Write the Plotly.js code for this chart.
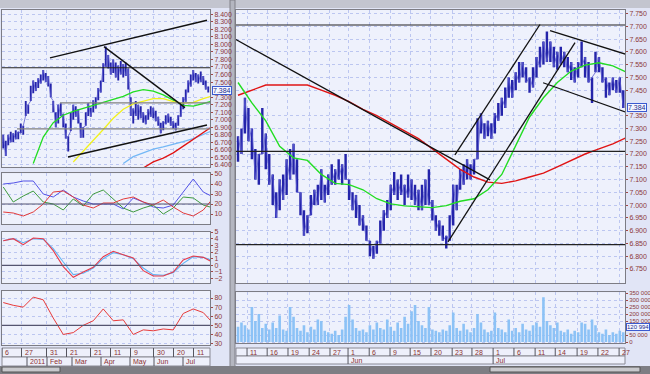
<!DOCTYPE html>
<html><head><meta charset="utf-8">
<script src="https://cdn.plot.ly/plotly-3.0.1.min.js"></script>
<style>html,body{margin:0;padding:0;background:#dde2f4;overflow:hidden}#chart{width:650px;height:374px}</style>
</head><body><div id="chart"></div>
<script>
// ===== LEFT CHART (daily, Dec 2010 - Jul 2011), one bar per 2 sessions =====
const leftHigh = [6.80,6.72,6.80,6.84,6.82,6.86,6.84,6.95,6.92,7.25,
 7.20,7.45,7.52,7.50,7.55,7.60,7.66,7.62,7.58,7.48,
 7.25,7.10,7.20,7.22,7.08,6.95,6.78,7.10,7.20,7.18,
 7.14,6.96,6.90,7.10,7.22,7.16,7.26,7.30,7.42,7.52,
 7.75,7.97,7.86,7.76,7.80,7.76,7.72,7.78,7.74,7.76,
 7.68,7.30,7.15,7.25,7.20,7.18,7.10,7.06,7.14,7.18,
 7.16,7.12,7.04,6.96,6.98,7.06,7.08,7.04,6.98,6.96,
 7.06,7.20,7.30,7.40,7.52,7.60,7.66,7.62,7.60,7.64,
 7.58,7.52,7.44];
const leftLow = [6.62,6.52,6.66,6.70,6.70,6.74,6.74,6.82,6.80,7.05,
 7.08,7.25,7.35,7.38,7.42,7.48,7.52,7.50,7.44,7.30,
 7.10,6.90,6.95,7.05,6.90,6.75,6.58,6.85,7.00,7.04,
 6.95,6.76,6.76,6.92,7.05,7.04,7.10,7.15,7.26,7.36,
 7.50,7.70,7.68,7.60,7.62,7.56,7.52,7.60,7.56,7.58,
 7.40,7.05,6.95,7.05,7.00,7.02,6.96,6.94,7.00,7.04,
 7.02,6.98,6.92,6.82,6.86,6.94,6.96,6.92,6.88,6.86,
 6.92,7.04,7.14,7.24,7.36,7.44,7.52,7.50,7.48,7.50,
 7.46,7.40,7.36];
const leftLast = 7.384;
// indicator samples every 4 bars
const leftStep = 4;
const leftMaGreen  = [null,null,null,6.42,6.77,6.96,7.06,7.11,7.15,7.19,7.23,7.26,7.31,7.37,7.40,7.38,7.33,7.26,7.19,7.18,7.21,7.25];
const leftMaYellow = [null,null,null,null,null,null,null,6.44,6.58,6.72,6.87,7.02,7.14,7.21,7.25,7.28,7.28,7.24,7.22,7.23,7.28,7.32];
const leftMaBlue   = [null,null,null,null,null,null,null,null,null,null,null,null,6.42,6.51,6.56,6.61,6.64,6.67,6.71,6.75,6.80,6.86];
const leftMaRed    = [null,null,null,null,null,null,null,null,null,null,null,null,null,null,6.36,6.44,6.49,6.56,6.65,6.74,6.83,6.92];
const dmiBlue  = [40,41,43,43,30,27,34,27,23,20,20,20,15,26,22,17,16,19,32,45,32,27];
const dmiRed   = [12,11,8,12,20,32,33,27,19,16,21,21,25,27,22,19,24,17,11,8,14,26];
const dmiGreen = [37,22,28,33,22,20,14,25,18,30,34,25,16,12,16,19,10,16,27,26,19,16];
const macdLine   = [3.7,4.0,3.1,4.1,4.0,2.2,-0.2,-1.8,-1.0,-0.3,1.3,2.1,1.6,1.1,-0.8,-1.6,-1.6,-1.0,0.8,1.4,1.2,0.4];
const macdSignal = [3.7,4.0,3.4,4.0,3.9,2.5,0.5,-1.4,-1.2,-0.4,1.0,1.9,1.6,1.0,-0.4,-1.4,-1.5,-1.1,0.3,1.3,1.2,0.7];
const rsiLine = [75,72,70,81,78,58,40,42,50,55,68,55,56,40,45,44,46,45,63,68,64,52];
const leftLevels = {dmi:20, macd:0, rsi:50};
// trend lines [x0,y0,x1,y1] in bar index / price
const leftTrends = [[18.7,7.82,81.5,8.32],[40.3,7.97,72.7,7.16],[25.9,6.505,81.5,6.93]];
const leftHLines = [[-0.5,7.69,'#202020'],[22.7,7.225,'#808080'],[5.5,6.88,'#808080']];
const leftPriceTicks = [6.4,6.5,6.6,6.7,6.8,6.9,7.0,7.1,7.2,7.3,7.5,7.6,7.7,7.8,7.9,8.0,8.1,8.2,8.3,8.4];
const leftTickLabels = ['6','27','31','21','21','11','9','30','20','11'];
const leftTickPos = [-0.5,7.3,17.3,25.3,34.9,42.9,50.9,60.1,68.1,76.1];
const leftMonthLabels = ['2011','Feb','Mar','Apr','May','Jun','Jul'];
const leftMonthPos = [9.5,17.5,27.5,39.1,50.7,60.3,71.9];

// ===== RIGHT CHART (intraday, May - Jul 2011), one bar per half day =====
const rightHigh = [7.27,7.30,7.42,7.38,7.30,7.22,7.20,7.38,7.28,7.20,
 7.12,7.05,7.10,7.12,7.18,7.22,7.24,7.18,7.05,6.98,
 6.96,7.04,7.06,7.08,7.14,7.08,7.12,7.16,7.14,7.18,
 7.16,7.20,7.10,7.05,7.04,7.00,6.96,6.92,6.86,6.84,
 6.86,6.94,6.98,7.02,7.08,7.13,7.10,7.12,7.08,7.12,
 7.10,7.08,7.06,7.08,7.10,7.14,7.02,6.96,6.94,6.92,
 6.88,6.96,7.08,7.08,7.14,7.16,7.18,7.16,7.18,7.34,
 7.36,7.32,7.33,7.32,7.36,7.40,7.42,7.46,7.50,7.49,
 7.52,7.56,7.56,7.54,7.50,7.54,7.58,7.62,7.64,7.68,
 7.64,7.62,7.60,7.62,7.60,7.58,7.56,7.54,7.56,7.64,
 7.58,7.56,7.50,7.60,7.58,7.54,7.50,7.48,7.50,7.49,
 7.50,7.45];
const rightLow = [7.17,7.20,7.28,7.25,7.18,7.10,7.08,7.20,7.14,7.08,
 7.00,6.95,6.98,7.02,7.04,7.10,7.12,7.05,6.96,6.88,
 6.89,6.96,7.00,7.00,7.02,7.01,7.04,7.08,7.08,7.10,
 7.08,7.10,7.02,6.98,6.95,6.92,6.90,6.86,6.80,6.79,
 6.81,6.85,6.90,6.95,6.98,7.04,7.02,7.04,7.00,7.03,
 7.02,7.00,6.98,6.98,7.00,7.00,6.94,6.90,6.88,6.86,
 6.83,6.86,6.92,6.98,7.06,7.08,7.10,7.10,7.12,7.18,
 7.28,7.26,7.27,7.26,7.28,7.33,7.35,7.38,7.42,7.42,
 7.45,7.48,7.50,7.48,7.44,7.46,7.50,7.54,7.55,7.56,
 7.56,7.54,7.53,7.55,7.54,7.52,7.49,7.48,7.50,7.54,
 7.50,7.48,7.40,7.52,7.52,7.48,7.42,7.43,7.45,7.44,
 7.44,7.38];
const rightLast = 7.384;
const rightVolume = [110,140,120,90,250,150,200,100,130,90,140,100,190,90,80,250,180,100,80,120,
 70,110,90,160,150,80,70,60,80,50,90,180,265,160,100,80,90,70,120,90,
 140,100,90,160,110,80,140,100,180,130,220,265,150,120,100,250,90,80,70,90,
 80,120,210,100,80,130,90,70,100,200,140,90,70,80,210,100,90,70,160,80,
 100,70,130,90,80,120,140,110,320,150,120,100,140,80,70,90,60,80,70,140,
 130,90,160,120,70,60,90,50,70,60,80,70];
const volumeUnit = 1000;
const volumeLast = 120994;
const rightStep = 4;
const rightMaRed = [7.43,7.45,7.47,7.47,7.47,7.47,7.45,7.43,7.405,7.375,7.35,7.32,7.29,7.26,7.22,7.18,7.14,7.11,7.09,7.085,7.095,7.11,7.125,7.15,7.175,7.20,7.22,7.24,7.265];
const rightMaGreen = [7.48,7.40,7.33,7.23,7.185,7.175,7.12,7.085,7.08,7.06,7.025,7.005,6.997,6.993,6.99,6.998,7.015,7.025,7.06,7.12,7.235,7.345,7.42,7.48,7.525,7.548,7.557,7.545,7.52];
const rightTrends = [[-0.6,7.648,72.6,7.099],[60.5,6.856,97.1,7.636],[62.5,7.197,87.0,7.707],[89.9,7.683,112.1,7.589],[87.9,7.479,112.1,7.362]];
const rightHLines = [7.705,7.21,6.845];
const rightPriceTicks = [6.75,6.8,6.85,6.9,6.95,7.0,7.05,7.1,7.15,7.2,7.25,7.3,7.35,7.45,7.5,7.55,7.6,7.65,7.7,7.75];
const rightTickLabels = ['11','16','19','24','27','1','6','9','15','20','23','28','1','6','11','14','19','22','27'];
const rightTickPos = [2.6,8.4,14.4,20.5,26.5,31.7,37.8,43.8,49.6,55.6,61.7,67.4,73.5,79.5,85.6,91.4,97.7,103.7,109.8];
const rightMonthLabels = ['Jun','Jul'];
const rightMonthPos = [31.7,73.5];
const volTickVals = [0,50000,150000,200000,250000,300000,350000];
const volTickText = ['0','50 000','150 000','200 000','250 000','300 000','350 000'];

// ===== helpers (layout only) =====
const W=650,H=374;
const fx = p => p/W, fy = p => 1-p/H;
const idx = (arr, step=1) => arr.map((_,i)=>i*step);
const zig = (hi, lo) => hi.map((h,i)=> i%2 ? lo[i] : h);
const tickFont = {family:'Liberation Sans, Arial, sans-serif', size:7, color:'#8c3838'};
const volFont = {family:'Liberation Sans, Arial, sans-serif', size:6, color:'#8c3838'};
const gridCol = '#bcc6f0';
const barCol = '#2424aa';

const traces = [];
traces.push({type:'scatter', mode:'lines', x:idx(leftHigh), y:zig(leftHigh,leftLow), line:{color:'#5a5ad0',width:0.8}, xaxis:'x', yaxis:'y'});
traces.push({type:'bar', x:idx(leftHigh), base:leftLow, y:leftHigh.map((h,i)=>h-leftLow[i]), width:0.75,
  marker:{color:barCol, line:{width:0}}, xaxis:'x', yaxis:'y', hoverinfo:'skip'});
[[leftMaGreen,'#22dd22'],[leftMaYellow,'#f2f21e'],[leftMaBlue,'#74b8f6'],[leftMaRed,'#e01414']].forEach(([a,c])=>
  traces.push({type:'scatter', mode:'lines', x:idx(a,leftStep), y:a, line:{color:c,width:1.3}, xaxis:'x', yaxis:'y'}));
[[dmiBlue,'#5252e6'],[dmiGreen,'#3f9a3f'],[dmiRed,'#e23a3a']].forEach(([a,c])=>
  traces.push({type:'scatter', mode:'lines', x:idx(a,leftStep), y:a, line:{color:c,width:1}, xaxis:'x2', yaxis:'y2'}));
[[macdSignal,'#62b4f4'],[macdLine,'#e83a4a']].forEach(([a,c])=>
  traces.push({type:'scatter', mode:'lines', x:idx(a,leftStep), y:a, line:{color:c,width:1.1}, xaxis:'x3', yaxis:'y3'}));
traces.push({type:'scatter', mode:'lines', x:idx(rsiLine,leftStep), y:rsiLine, line:{color:'#e83a3a',width:1}, xaxis:'x4', yaxis:'y4'});
traces.push({type:'scatter', mode:'lines', x:idx(rightHigh), y:zig(rightHigh,rightLow), line:{color:'#5a5ad0',width:0.8}, xaxis:'x5', yaxis:'y5'});
traces.push({type:'bar', x:idx(rightHigh), base:rightLow, y:rightHigh.map((h,i)=>h-rightLow[i]), width:0.7,
  marker:{color:barCol, line:{width:0}}, xaxis:'x5', yaxis:'y5', hoverinfo:'skip'});
[[rightMaRed,'#e01414'],[rightMaGreen,'#22dd22']].forEach(([a,c])=>
  traces.push({type:'scatter', mode:'lines', x:idx(a,rightStep), y:a, line:{color:c,width:1.4}, xaxis:'x5', yaxis:'y5'}));
traces.push({type:'bar', x:idx(rightVolume), y:rightVolume.map(v=>v*volumeUnit), width:0.75,
  marker:{color:'#8cc2f6', line:{width:0}}, xaxis:'x6', yaxis:'y6'});

const xBase = {showgrid:true, gridcolor:gridCol, griddash:'dot', gridwidth:1, zeroline:false, showticklabels:false,
  ticks:'', showline:true, mirror:true, linecolor:'#7c7c84', linewidth:1};
const yBase = {side:'right', showgrid:true, gridcolor:gridCol, griddash:'dot', gridwidth:1, zeroline:false,
  ticks:'outside', ticklen:2, tickcolor:'#a04848', tickfont:tickFont, showline:true, mirror:true, linecolor:'#7c7c84', linewidth:1};
const LX=[fx(2),fx(210)], RX=[fx(236),fx(625)];
const layout = {
  width:W, height:H, margin:{l:0,r:0,t:0,b:0}, showlegend:false, barmode:'overlay',
  paper_bgcolor:'#e1e5f6', plot_bgcolor:'#eef1fc',
  xaxis:  Object.assign({}, xBase, {domain:LX, range:[-0.5,82.7], anchor:'y', tickvals:leftTickPos}),
  xaxis2: Object.assign({}, xBase, {domain:LX, matches:'x', anchor:'y2', tickvals:leftTickPos}),
  xaxis3: Object.assign({}, xBase, {domain:LX, matches:'x', anchor:'y3', tickvals:leftTickPos}),
  xaxis4: Object.assign({}, xBase, {domain:LX, matches:'x', anchor:'y4', tickvals:leftTickPos}),
  xaxis5: Object.assign({}, xBase, {domain:RX, range:[-0.58,111.5], anchor:'y5', tickvals:rightTickPos}),
  xaxis6: Object.assign({}, xBase, {domain:RX, matches:'x5', anchor:'y6', tickvals:rightTickPos}),
  yaxis:  Object.assign({}, yBase, {domain:[fy(167),fy(9.5)], range:[6.373,8.4625], anchor:'x', tickvals:leftPriceTicks, tickformat:'.3f'}),
  yaxis2: Object.assign({}, yBase, {domain:[fy(224.3),fy(173.3)], range:[-0.3,50.7], anchor:'x2', tickvals:[10,20,30,40,50]}),
  yaxis3: Object.assign({}, yBase, {domain:[fy(283.3),fy(231.7)], range:[-2.7,5.05], anchor:'x3', tickvals:[-2,-1,0,1,2,3,4,5]}),
  yaxis4: Object.assign({}, yBase, {domain:[fy(345),fy(291)], range:[28.4,87.7], anchor:'x4', tickvals:[30,40,50,60,70,80]}),
  yaxis5: Object.assign({}, yBase, {domain:[fy(283),fy(9.5)], range:[6.6951,7.7657], anchor:'x5', tickvals:rightPriceTicks, tickformat:'.3f'}),
  yaxis6: Object.assign({}, yBase, {domain:[fy(343.3),fy(292.3)], range:[-9000,355000], anchor:'x6', tickvals:volTickVals, ticktext:volTickText, tickfont:volFont}),
  shapes:[], annotations:[]
};
const S = layout.shapes, A = layout.annotations;
// window chrome
S.push({type:'rect', xref:'paper', yref:'paper', x0:0, x1:fx(231), y0:fy(8), y1:1, fillcolor:'#c3c5cf', line:{width:0}, layer:'below'});
S.push({type:'rect', xref:'paper', yref:'paper', x0:fx(233), x1:1, y0:fy(8), y1:1, fillcolor:'#c3c5cf', line:{width:0}, layer:'below'});
S.push({type:'rect', xref:'paper', yref:'paper', x0:fx(230), x1:fx(235), y0:0, y1:1, fillcolor:'#b4b6c0', line:{color:'#808088',width:1}, layer:'below'});
S.push({type:'rect', xref:'paper', yref:'paper', x0:0, x1:1, y0:0, y1:fy(366), fillcolor:'#7e7e84', line:{width:0}, layer:'below'});
S.push({type:'rect', xref:'paper', yref:'paper', x0:fx(2), x1:fx(60), y0:fy(372), y1:fy(367), fillcolor:'#c8c8cc', line:{color:'#555',width:1}, layer:'below'});
S.push({type:'rect', xref:'paper', yref:'paper', x0:fx(490), x1:fx(640), y0:fy(372), y1:fy(367), fillcolor:'#c8c8cc', line:{color:'#555',width:1}, layer:'below'});
// date strips
[[LX,348,357],[LX,357,366],[RX,348,356],[RX,356,364]].forEach(([xd,a,b])=>
  S.push({type:'rect', xref:'paper', yref:'paper', x0:xd[0], x1:xd[1], y0:fy(b), y1:fy(a), fillcolor:'#eef0fb', line:{color:'#8a8a94',width:1}, layer:'below'}));
const dateFont = {family:'Liberation Sans, Arial, sans-serif', size:7, color:'#8c3030'};
function dateRow(labels, pos, xref, a, b){
  labels.forEach((t,i)=>{
    S.push({type:'line', xref:xref, yref:'paper', x0:pos[i], x1:pos[i], y0:fy(b), y1:fy(a), line:{color:'#55555f',width:1}});
    A.push({text:t, x:pos[i], xref:xref, y:fy((a+b)/2), yref:'paper', xanchor:'left', yanchor:'middle', xshift:1, showarrow:false, font:dateFont});
  });
}
dateRow(leftTickLabels, leftTickPos, 'x4', 348, 357);
dateRow(leftMonthLabels, leftMonthPos, 'x4', 357, 366);
dateRow(rightTickLabels, rightTickPos, 'x6', 348, 356);
dateRow(rightMonthLabels, rightMonthPos, 'x6', 356, 364);
// reference levels in oscillators
[['x2','y2',leftLevels.dmi],['x3','y3',leftLevels.macd],['x4','y4',leftLevels.rsi]].forEach(([xr,yr,v])=>
  S.push({type:'line', xref:xr+' domain', yref:yr, x0:0, x1:1, y0:v, y1:v, line:{color:'#555570',width:1.2}}));
leftHLines.forEach(([x0,v,c])=>S.push({type:'line', xref:'x', yref:'y', x0:x0, x1:82.7, y0:v, y1:v, line:{color:c,width:1.2}}));
leftTrends.forEach(t=>S.push({type:'line', xref:'x', yref:'y', x0:t[0], y0:t[1], x1:t[2], y1:t[3], line:{color:'#111',width:1.4}}));
rightHLines.forEach(v=>S.push({type:'line', xref:'x5 domain', yref:'y5', x0:0, x1:1, y0:v, y1:v, line:{color:'#222',width:1.2}}));
rightTrends.forEach(t=>S.push({type:'line', xref:'x5', yref:'y5', x0:t[0], y0:t[1], x1:t[2], y1:t[3], line:{color:'#111',width:1.3}}));
// last-value boxes
const boxFont = {family:'Liberation Sans, Arial, sans-serif', size:7, color:'#1a2c8c'};
const boxFontS = {family:'Liberation Sans, Arial, sans-serif', size:6, color:'#1a2c8c'};
A.push({text:leftLast.toFixed(3), x:1, xref:'x domain', y:leftLast, yref:'y', xanchor:'left', xshift:2, showarrow:false, font:boxFont, bgcolor:'#f4f6ff', bordercolor:'#3a5ad0', borderwidth:1, borderpad:0});
A.push({text:rightLast.toFixed(3), x:1, xref:'x5 domain', y:rightLast, yref:'y5', xanchor:'left', xshift:2, showarrow:false, font:boxFont, bgcolor:'#f4f6ff', bordercolor:'#3a5ad0', borderwidth:1, borderpad:0});
A.push({text:'120 994', x:1, xref:'x6 domain', y:volumeLast, yref:'y6', xanchor:'left', xshift:1, yshift:-2, showarrow:false, font:boxFontS, bgcolor:'#f4f6ff', bordercolor:'#3a5ad0', borderwidth:1, borderpad:0});

Plotly.newPlot('chart', traces, layout, {staticPlot:true, displayModeBar:false});
</script>
</body></html>
